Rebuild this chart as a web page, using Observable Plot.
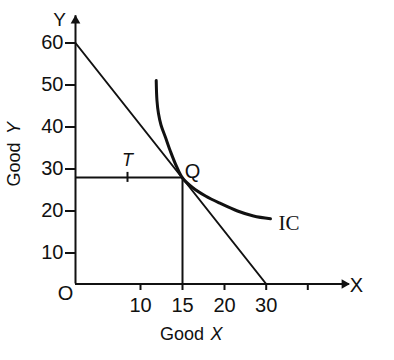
<!DOCTYPE html>
<html>
<head>
<meta charset="utf-8">
<script src="https://cdn.jsdelivr.net/npm/d3@7"></script>
<script src="https://cdn.jsdelivr.net/npm/@observablehq/plot@0.6"></script>
<style>
  html, body { margin: 0; padding: 0; background: #fff; }
  #chart { width: 394px; height: 360px; }
</style>
</head>
<body>
<div id="chart"></div>
<script>
// Budget line endpoints
const budgetX = [0, 30];
const budgetY = [60, 0];
// Indifference curve IC
const icX = [11.87, 11.96, 12.14, 12.44, 12.98, 13.57, 14.29, 15, 16.19, 17.74, 19.52, 23.12, 26.95, 31.03];
const icY = [51.07, 46.31, 43.21, 40.48, 37.5, 34.17, 30.6, 27.86, 25.6, 23.57, 21.79, 20.0, 18.81, 18.14];
// Equilibrium point Q and point T
const qX = [15];
const qY = [28];
const tX = [8];
// Ticks
const xTicks = [10, 15, 20, 30, 40];
const xTickLabels = ["10", "15", "20", "30", ""];
const yTicks = [10, 20, 30, 40, 50, 60];
// Axis ends (arrow tips)
const xAxisEnd = [50];
const yAxisEnd = [66.5];

const budget = budgetX.map((x, i) => ({x, y: budgetY[i]}));
const ic = icX.map((x, i) => ({x, y: icY[i]}));
const q = qX.map((x, i) => ({x, y: qY[i]}));
const t = tX.map(x => ({x, y: qY[0]}));

const sans = "'Liberation Sans', Arial, Helvetica, sans-serif";
const serif = "'Liberation Serif', 'Times New Roman', serif";
const ink = "#111";
const lbl = {fill: ink, textAnchor: "middle", lineAnchor: "middle"};

const plot = Plot.plot({
  width: 394,
  height: 360,
  marginLeft: 75,
  marginBottom: 76,
  marginTop: 0,
  marginRight: 0,
  style: {fontFamily: sans, fontSize: "20px", color: ink, background: "#fff"},
  x: {type: "linear", domain: [0, 10, 15, 20, 30, 40], range: [75, 140, 182, 224, 265.7, 307.3]},
  y: {type: "linear", domain: [0, 10, 60], range: [283.5, 252.5, 42.5]},
  marks: [
    // axis lines with arrowheads
    Plot.ruleY([0], {x1: 0, x2: xAxisEnd[0], stroke: ink, strokeWidth: 2}),
    Plot.ruleX([0], {y1: 0, y2: yAxisEnd[0], stroke: ink, strokeWidth: 2}),
    Plot.dot(xAxisEnd, {x: d => d, y: 0, symbol: "triangle", rotate: 90, r: 3.6, fill: ink, stroke: "none", dx: -5}),
    Plot.dot(yAxisEnd, {x: 0, y: d => d, symbol: "triangle", rotate: 0, r: 3.6, fill: ink, stroke: "none", dy: 5}),
    // axes ticks and labels
    Plot.axisX(xTicks, {tickSize: 6, tickPadding: 7, strokeWidth: 2, fontSize: 20, label: null,
      tickFormat: d => xTickLabels[xTicks.indexOf(d)]}),
    Plot.axisY(yTicks, {tickSize: 10, tickPadding: 2, strokeWidth: 2, fontSize: 20, label: null}),
    // budget line
    Plot.line(budget, {x: "x", y: "y", stroke: ink, strokeWidth: 2}),
    // guide lines to Q
    Plot.ruleY(q, {x1: 0, x2: "x", y: "y", stroke: ink, strokeWidth: 2}),
    Plot.ruleX(q, {x: "x", y1: 0, y2: "y", stroke: ink, strokeWidth: 2}),
    // tick at T
    Plot.ruleX(t, {x: "x", y1: "y", y2: "y", insetTop: -5, insetBottom: -5, stroke: ink, strokeWidth: 2}),
    // indifference curve
    Plot.line(ic, {x: "x", y: "y", curve: "catmull-rom", stroke: ink, strokeWidth: 3}),
    // labels
    Plot.text(q, {x: "x", y: "y", text: () => "Q", dx: 10, dy: -6, fontSize: 20, ...lbl}),
    Plot.text(t, {x: "x", y: "y", text: () => "T", dy: -17, fontSize: 18, fontStyle: "italic", ...lbl}),
    Plot.text([ic[ic.length - 1]], {x: "x", y: "y", text: () => "IC", dx: 8, dy: 4, fontSize: 21, fontFamily: serif, ...lbl, textAnchor: "start"}),
    Plot.text(["O"], {frameAnchor: "bottom-left", dx: -10, dy: 9, fontSize: 20, ...lbl}),
    Plot.text(["Y"], {frameAnchor: "top-left", dx: -16, dy: 19, fontSize: 19, ...lbl}),
    Plot.text(["X"], {frameAnchor: "bottom-right", dx: -38, dy: 1, fontSize: 20, ...lbl}),
    Plot.text(["Good"], {frameAnchor: "bottom-left", dx: 106.5, dy: 50, fontSize: 18, ...lbl}),
    Plot.text(["X"], {frameAnchor: "bottom-left", dx: 141, dy: 50, fontSize: 18, fontStyle: "italic", ...lbl}),
    Plot.text(["Good"], {frameAnchor: "left", dx: -61, dy: 22, rotate: -90, fontSize: 18, ...lbl}),
    Plot.text(["Y"], {frameAnchor: "left", dx: -61, dy: -14.5, rotate: -90, fontSize: 18, fontStyle: "italic", ...lbl})
  ]
});
document.getElementById("chart").appendChild(plot);
</script>
</body>
</html>
